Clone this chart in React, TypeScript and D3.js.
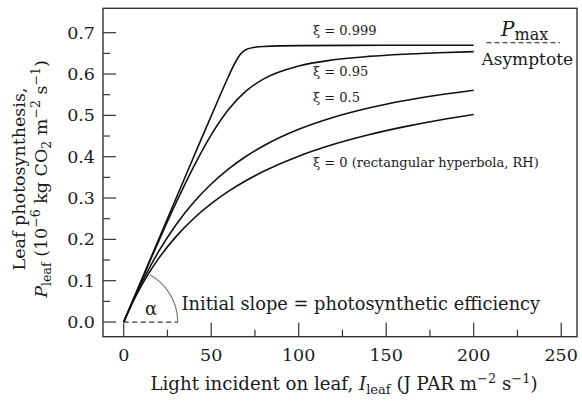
import React from "react";
import * as d3 from "d3";

// Light incident on leaf (J PAR m^-2 s^-1)
const I_GRID = [0, 5, 10, 15, 20, 30, 40, 50, 60, 70, 80, 100, 120, 140, 160, 180, 200];
const I_SHARP = [0, 20, 40, 55, 60, 63, 65, 67, 70, 75, 80, 100, 150, 200];

// Leaf photosynthesis (10^-6 kg CO2 m^-2 s^-1)
const P_XI_0999 = [0, 0.2, 0.4, 0.5475, 0.5952, 0.6219, 0.6375, 0.6495, 0.6593, 0.6648, 0.6667, 0.6687, 0.6695, 0.6697];
const P_XI_095 = [0, 0.0498, 0.0992, 0.1479, 0.1959, 0.2891, 0.3759, 0.4528, 0.5147, 0.5591, 0.5883, 0.6196, 0.6344, 0.6427, 0.6479, 0.6515, 0.6541];
const P_XI_05 = [0, 0.0481, 0.0926, 0.1334, 0.1708, 0.2359, 0.2897, 0.334, 0.3706, 0.401, 0.4265, 0.4663, 0.4956, 0.5179, 0.5354, 0.5493, 0.5608];
const P_XI_0 = [0, 0.0465, 0.087, 0.1226, 0.154, 0.2072, 0.2505, 0.2863, 0.3165, 0.3423, 0.3646, 0.4012, 0.4299, 0.4531, 0.4722, 0.4883, 0.5019];

const SERIES_LABELS = ["ξ = 0.999", "ξ = 0.95", "ξ = 0.5", "ξ = 0 (rectangular hyperbola, RH)"];
const LABEL_Y = [0.694, 0.595, 0.532, 0.374];

const X_TICKS = [0, 50, 100, 150, 200, 250];
const X_MINOR = [25, 75, 125, 175, 225];
const Y_TICKS = [0, 0.1, 0.2, 0.3, 0.4, 0.5, 0.6, 0.7];
const Y_MINOR = [0.05, 0.15, 0.25, 0.35, 0.45, 0.55, 0.65];

const P_MAX = 0.676;

const FONT = "'DejaVu Serif', serif";

export default function App() {
  const left = 103, right = 577, top = 8.3, bottom = 336.7;
  const x = d3.scaleLinear().domain([-11.83, 259.03]).range([left, right]);
  const y = d3.scaleLinear().domain([-0.0355, 0.759]).range([bottom, top]);

  const series = [
    { I: I_SHARP, P: P_XI_0999 },
    { I: I_GRID, P: P_XI_095 },
    { I: I_GRID, P: P_XI_05 },
    { I: I_GRID, P: P_XI_0 },
  ];

  const line = d3
    .line<[number, number]>()
    .x((d) => x(d[0]))
    .y((d) => y(d[1]))
    .curve(d3.curveMonotoneX);

  const cx = x(0), cy = y(0);
  const r = 54;
  const ang = (61 * Math.PI) / 180;
  const arcPath = `M${cx + r},${cy} A${r},${r} 0 0 0 ${cx + r * Math.cos(ang)},${cy - r * Math.sin(ang)}`;

  const textColor = "#1a1a1a";

  return (
    <svg
      width={582}
      height={403}
      style={{ position: "absolute", left: 0, top: 0, background: "#fff" }}
      fontFamily={FONT}
    >
      <rect x={0} y={0} width={582} height={403} fill="#fff" />
      {/* ticks */}
      {X_TICKS.map((t) => (
        <line key={"xt" + t} x1={x(t)} x2={x(t)} y1={bottom} y2={bottom - 14} stroke="#333" strokeWidth={1.2} />
      ))}
      {X_MINOR.map((t) => (
        <line key={"xm" + t} x1={x(t)} x2={x(t)} y1={bottom} y2={bottom - 7} stroke="#333" strokeWidth={1.2} />
      ))}
      {Y_TICKS.map((t) => (
        <line key={"yt" + t} x1={left} x2={left + 13} y1={y(t)} y2={y(t)} stroke="#333" strokeWidth={1.2} />
      ))}
      {Y_MINOR.map((t) => (
        <line key={"ym" + t} x1={left} x2={left + 7} y1={y(t)} y2={y(t)} stroke="#333" strokeWidth={1.2} />
      ))}
      {/* tick labels */}
      {X_TICKS.map((t) => (
        <text key={"xl" + t} x={x(t)} y={361} textAnchor="middle" fontSize={17.5} fill={textColor}>
          {t}
        </text>
      ))}
      {Y_TICKS.map((t) => (
        <text key={"yl" + t} x={95} y={y(t) + 6} textAnchor="end" fontSize={17.5} fill={textColor}>
          {d3.format(".1f")(t)}
        </text>
      ))}

      {/* alpha annotation */}
      <line x1={cx} x2={cx + r} y1={cy} y2={cy} stroke="#333" strokeWidth={1.3} strokeDasharray="5,3.5" />
      <path d={arcPath} fill="none" stroke="#777" strokeWidth={1.1} />
      <text x={151} y={315} textAnchor="middle" fontSize={18} fill="#222">α</text>
      <text x={181.5} y={310} fontSize={17.8} fill={textColor}>Initial slope = photosynthetic efficiency</text>

      {/* curves */}
      {series.map((s, i) => (
        <path
          key={"c" + i}
          d={line(s.I.map((v, k) => [v, s.P[k]] as [number, number])) || ""}
          fill="none"
          stroke="#111"
          strokeWidth={1.6}
        />
      ))}
      {SERIES_LABELS.map((l, i) => (
        <text key={"sl" + i} x={313} y={y(LABEL_Y[i])} fontSize={13} fill={textColor}>
          {l}
        </text>
      ))}

      {/* Pmax asymptote */}
      <line x1={486.5} x2={560} y1={y(P_MAX)} y2={y(P_MAX)} stroke="#444" strokeWidth={1.2} strokeDasharray="5,3" />
      <text x={501} y={36} fontSize={20} fill={textColor}>
        <tspan fontStyle="italic">P</tspan>
        <tspan fontSize={16} dy={3.5}>max</tspan>
      </text>
      <text x={481.5} y={65} fontSize={17} fill={textColor}>Asymptote</text>

      {/* frame */}
      <rect x={left} y={top} width={right - left} height={bottom - top} fill="none" stroke="#333" strokeWidth={1.4} />

      {/* x-axis title */}
      <text x={344} y={390} textAnchor="middle" fontSize={18.2} fill={textColor}>
        <tspan>Light incident on leaf, </tspan>
        <tspan fontStyle="italic">I</tspan>
        <tspan fontSize={13} dy={4}>leaf</tspan>
        <tspan dy={-4}> (J PAR m</tspan>
        <tspan fontSize={13} dy={-7}>−2</tspan>
        <tspan dy={7}> s</tspan>
        <tspan fontSize={13} dy={-7}>−1</tspan>
        <tspan dy={7}>)</tspan>
      </text>

      {/* y-axis title */}
      <g transform="rotate(-90)">
        <text x={-179} y={25} textAnchor="middle" fontSize={17.5} fill={textColor}>
          Leaf photosynthesis,
        </text>
        <text x={-179} y={46.5} textAnchor="middle" fontSize={17.5} fill={textColor}>
          <tspan fontStyle="italic">P</tspan>
          <tspan fontSize={12.5} dy={4}>leaf</tspan>
          <tspan dy={-4}> (10</tspan>
          <tspan fontSize={12.5} dy={-7}>−6</tspan>
          <tspan dy={7}> kg CO</tspan>
          <tspan fontSize={12.5} dy={4}>2</tspan>
          <tspan dy={-4}> m</tspan>
          <tspan fontSize={12.5} dy={-7}>−2</tspan>
          <tspan dy={7}> s</tspan>
          <tspan fontSize={12.5} dy={-7}>−1</tspan>
          <tspan dy={7}>)</tspan>
        </text>
      </g>
    </svg>
  );
}
